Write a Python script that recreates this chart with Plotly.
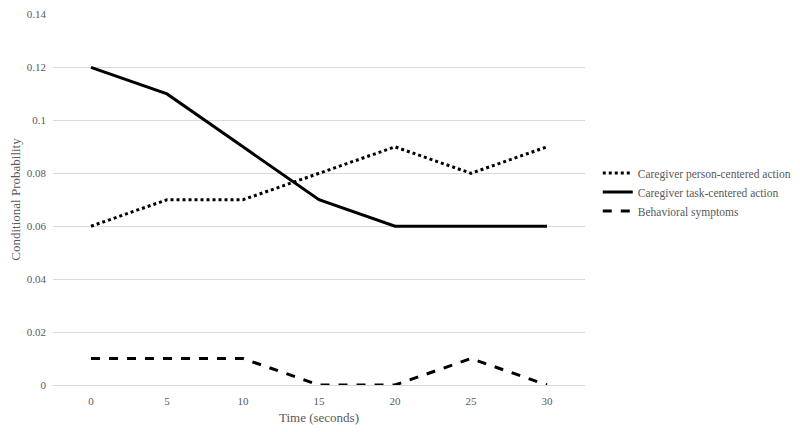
import plotly.graph_objects as go

time_s = [0, 5, 10, 15, 20, 25, 30]
person_centered = [0.06, 0.07, 0.07, 0.08, 0.09, 0.08, 0.09]
task_centered = [0.12, 0.11, 0.09, 0.07, 0.06, 0.06, 0.06]
behavioral = [0.01, 0.01, 0.01, 0.0, 0.0, 0.01, 0.0]
y_ticks = [0, 0.02, 0.04, 0.06, 0.08, 0.1, 0.12, 0.14]
y_tick_labels = ["0", "0.02", "0.04", "0.06", "0.08", "0.1", "0.12", "0.14"]

fig = go.Figure()
fig.add_trace(go.Scatter(x=time_s, y=person_centered, mode="lines",
                         name="Caregiver person-centered action",
                         line=dict(color="black", width=3, dash="dot")))
fig.add_trace(go.Scatter(x=time_s, y=task_centered, mode="lines",
                         name="Caregiver task-centered action",
                         line=dict(color="black", width=3, dash="solid")))
fig.add_trace(go.Scatter(x=time_s, y=behavioral, mode="lines",
                         name="Behavioral symptoms",
                         line=dict(color="black", width=3, dash="dash")))

font_fam = "Liberation Serif, Times New Roman, serif"
fig.update_layout(
    width=800, height=432,
    margin=dict(l=45, r=223, t=6, b=55),
    paper_bgcolor="white", plot_bgcolor="white",
    font=dict(family=font_fam, size=11, color="#595959"),
    showlegend=True,
    legend=dict(x=1.024, y=0.520, xanchor="left", yanchor="middle",
                font=dict(family=font_fam, size=11.5, color="#595959"),
                bgcolor="rgba(0,0,0,0)", tracegroupgap=0),
    xaxis=dict(range=[-2.5, 32.5], tickmode="array", tickvals=time_s,
               ticktext=[str(t) for t in time_s], showgrid=False,
               zeroline=False, showline=False, ticks="",
               ticklabelstandoff=8,
               title=dict(text="Time (seconds)", font=dict(size=13, color="#595959"), standoff=6)),
    yaxis=dict(range=[0, 0.1402], tickmode="array", tickvals=y_ticks,
               ticktext=y_tick_labels, showgrid=True, gridcolor="#d9d9d9",
               gridwidth=1, zeroline=True, zerolinecolor="#d9d9d9",
               zerolinewidth=1, showline=False, ticks="",
               ticklabelstandoff=6, ticklabeloverflow="allow",
               automargin=False,
               title=dict(text="Conditional Probability", font=dict(size=13, color="#595959"), standoff=4)),
)

fig.write_html("out.html")
